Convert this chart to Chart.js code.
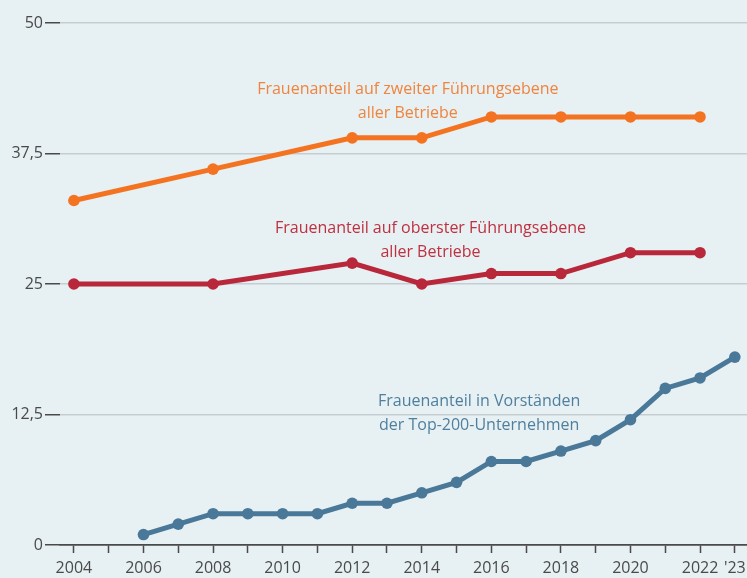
<!DOCTYPE html>
<html lang="de">
<head>
<meta charset="utf-8">
<script src="https://cdn.jsdelivr.net/npm/chart.js@4/dist/chart.umd.min.js"></script>
<style>
  html, body { margin: 0; padding: 0; background: #e7f0f2; overflow: hidden; }
  canvas { display: block; }
</style>
</head>
<body>
<canvas id="chart" width="747" height="578"></canvas>
<script>
// Daten
const jahreBetriebe = [2004, 2008, 2012, 2014, 2016, 2018, 2020, 2022];
const zweiteEbene = [33, 36, 39, 39, 41, 41, 41, 41];
const obersteEbene = [25, 25, 27, 25, 26, 26, 28, 28];

const jahreVorstand = [2006, 2007, 2008, 2009, 2010, 2011, 2012, 2013, 2014, 2015, 2016, 2017, 2018, 2019, 2020, 2021, 2022, 2023];
const vorstaende = [1, 2, 3, 3, 3, 3, 4, 4, 5, 6, 8, 8, 9, 10, 12, 15, 16, 18];

const jahre = [2004, 2005, 2006, 2007, 2008, 2009, 2010, 2011, 2012, 2013, 2014, 2015, 2016, 2017, 2018, 2019, 2020, 2021, 2022, 2023];
const yTicks = [0, 12.5, 25, 37.5, 50];

const farbeOrange = '#f47321';
const farbeRot = '#b8283a';
const farbeBlau = '#4a7898';
const dunkel = '#4a4a4a';
const schrift = '"Open Sans", "Noto Sans", sans-serif';

const toPoints = (xs, ys) => xs.map((x, i) => ({ x: x, y: ys[i] }));
const jahrLabel = v => v === 2023 ? "'23" : (v % 2 === 0 ? String(v) : '');

// Beschriftungen an den Linien (Lage in Datenkoordinaten)
const beschriftungen = [
    { lines: ['Frauenanteil auf zweiter Führungsebene', 'aller Betriebe'], x: 2013.6, y: 42.5, color: '#f0843f' },
    { lines: ['Frauenanteil auf oberster Führungsebene', 'aller Betriebe'], x: 2014.25, y: 29.2, color: '#bf3040' },
    { lines: ['Frauenanteil in Vorständen', 'der Top-200-Unternehmen'], x: 2015.65, y: 12.6, color: '#4f7f9e' }
];

const labelPlugin = {
    id: 'labels',
    afterDatasetsDraw(chart) {
        const ctx = chart.ctx;
        const xs = chart.scales.x, ys = chart.scales.y;
        ctx.save();
        ctx.font = '16px ' + schrift;
        ctx.textAlign = 'center';
        ctx.textBaseline = 'middle';
        beschriftungen.forEach(b => {
            const px = xs.getPixelForValue(b.x);
            const py = ys.getPixelForValue(b.y);
            ctx.fillStyle = b.color;
            b.lines.forEach((t, i) => {
                ctx.fillText(t, px, py + (i - (b.lines.length - 1) / 2) * 24);
            });
        });
        // Jahreszahlen unter der x-Achse (ohne automatische Randabstände)
        ctx.fillStyle = dunkel;
        jahre.forEach(j => {
            const t = jahrLabel(j);
            if (t) ctx.fillText(t, xs.getPixelForValue(j), xs.top + 23);
        });
        ctx.restore();
    }
};

const lineDataset = (label, data, color) => ({
    label: label,
    data: data,
    borderColor: color,
    backgroundColor: color,
    borderWidth: 5,
    pointRadius: 5.8,
    pointHoverRadius: 5.8,
    pointBorderWidth: 0,
    tension: 0,
    clip: false
});

new Chart(document.getElementById('chart'), {
    type: 'line',
    data: {
        datasets: [
            lineDataset('Frauenanteil auf zweiter Führungsebene aller Betriebe', toPoints(jahreBetriebe, zweiteEbene), farbeOrange),
            lineDataset('Frauenanteil auf oberster Führungsebene aller Betriebe', toPoints(jahreBetriebe, obersteEbene), farbeRot),
            lineDataset('Frauenanteil in Vorständen der Top-200-Unternehmen', toPoints(jahreVorstand, vorstaende), farbeBlau)
        ]
    },
    options: {
        responsive: false,
        animation: false,
        layout: { autoPadding: false, padding: { top: 23, right: 0, left: 0, bottom: 0 } },
        plugins: {
            legend: { display: false },
            tooltip: { enabled: false }
        },
        scales: {
            x: {
                type: 'linear',
                min: 2003.6,
                max: 2023.35,
                afterBuildTicks: axis => { axis.ticks = jahre.map(v => ({ value: v })); },
                afterFit: axis => { axis.height = 33; },
                border: { color: dunkel, width: 1.5 },
                grid: {
                    drawOnChartArea: false,
                    tickLength: 8,
                    tickColor: dunkel,
                    tickWidth: 1.5
                },
                ticks: { display: false }
            },
            y: {
                min: 0,
                max: 50,
                afterBuildTicks: axis => { axis.ticks = yTicks.map(v => ({ value: v })); },
                afterFit: axis => { axis.width = 60; },
                border: { display: false },
                grid: {
                    tickLength: 15,
                    tickColor: dunkel,
                    tickWidth: 1.5,
                    lineWidth: 1.5,
                    color: c => c.tick && c.tick.value === 0 ? dunkel : '#c6cdd0'
                },
                ticks: {
                    padding: 2,
                    color: dunkel,
                    font: { family: schrift, size: 16 },
                    callback: v => String(v).replace('.', ',')
                }
            }
        }
    },
    plugins: [labelPlugin]
});
</script>
</body>
</html>
